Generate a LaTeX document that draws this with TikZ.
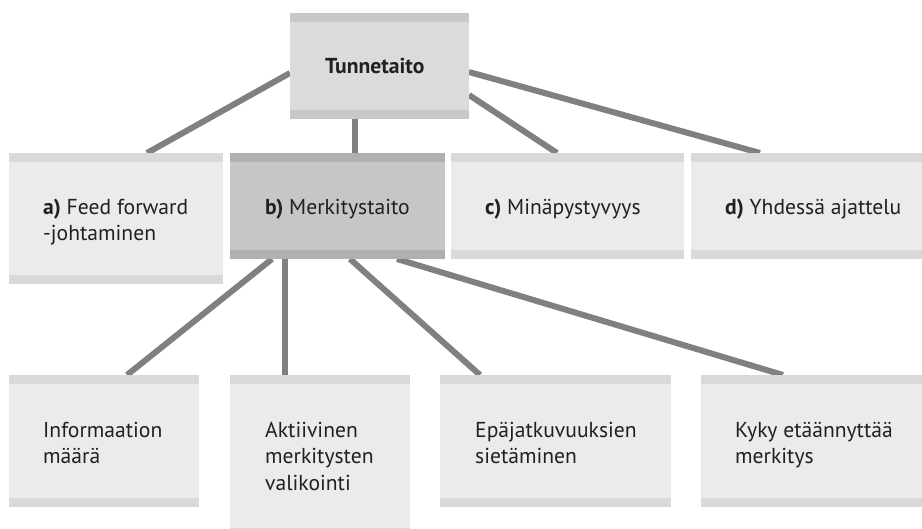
\documentclass[tikz,border=0pt]{standalone}
\usepackage{fontspec}
\setmainfont{PT Sans}
\usetikzlibrary{backgrounds}

\definecolor{paleFill}{HTML}{EBEBEC}
\definecolor{paleStrip}{HTML}{D9D9DB}
\definecolor{midFill}{HTML}{DBDBDD}
\definecolor{midStrip}{HTML}{C8C8CA}
\definecolor{darkFill}{HTML}{C6C6C8}
\definecolor{darkStrip}{HTML}{B0B0B2}
\definecolor{linkGray}{HTML}{808080}
\definecolor{inkColor}{HTML}{231F20}

\tikzset{
  card/.style={rectangle, draw=none, inner sep=0pt, outer sep=0pt,
    anchor=north west, fill=#1Fill,
    path picture={
      \fill[#1Strip] (path picture bounding box.north west)
        rectangle ([yshift=-9pt]path picture bounding box.north east);
      \fill[#1Strip] (path picture bounding box.south west)
        rectangle ([yshift=9pt]path picture bounding box.south east);
    }},
  card/.default=pale,
  lbl/.style={inner sep=0pt, anchor=north west, align=left, text=inkColor,
    font=\fontsize{21.6}{26.5}\selectfont},
  link/.style={draw=linkGray, line width=6pt}
}
\newcommand{\fst}{\rule{0pt}{20pt}}

\begin{document}
\begin{tikzpicture}[x=1pt, y=-1pt]
  \clip (0,0) rectangle (922,529);
  \useasboundingbox (0,0) rectangle (922,529);

  % top level
  \node[card=mid, minimum width=179pt, minimum height=106pt] (T) at (290,13) {};

  % second level
  \node[card, minimum width=214pt, minimum height=131pt] (A) at (9,153) {};
  \node[card=dark, minimum width=215pt, minimum height=106pt] (B) at (230,153) {};
  \node[card, minimum width=233pt, minimum height=106pt] (C) at (451,153) {};
  \node[card, minimum width=240pt, minimum height=106pt] (D) at (691,153) {};

  % third level
  \node[card, minimum width=190pt, minimum height=132pt] (P1) at (9,375) {};
  \node[card, minimum width=180pt, minimum height=162pt] (P2) at (230,375) {};
  \node[card, minimum width=231pt, minimum height=132pt] (P3) at (440,375) {};
  \node[card, minimum width=230pt, minimum height=132pt] (P4) at (701,375) {};

  % labels
  \node[lbl] (Tt) at ([xshift=35pt,yshift=-40pt]T.north west) {\fst\textbf{Tunnetaito}};
  \node[lbl] (At) at ([xshift=34pt,yshift=-41pt]A.north west) {\fst\textbf{a)} Feed forward\\-johtaminen};
  \node[lbl] (Bt) at ([xshift=35pt,yshift=-41pt]B.north west) {\fst\textbf{b)} Merkitystaito};
  \node[lbl] (Ct) at ([xshift=34pt,yshift=-41pt]C.north west) {\fst\textbf{c)} Minäpystyvyys};
  \node[lbl] (Dt) at ([xshift=34pt,yshift=-41pt]D.north west) {\fst\textbf{d)} Yhdessä ajattelu};
  \node[lbl] (P1t) at ([xshift=34pt,yshift=-42pt]P1.north west) {\fst Informaation\\määrä};
  \node[lbl] (P2t) at ([xshift=35pt,yshift=-42pt]P2.north west) {\fst Aktiivinen\\merkitysten\\valikointi};
  \node[lbl] (P3t) at ([xshift=35pt,yshift=-42pt]P3.north west) {\fst Epäjatkuvuuksien\\sietäminen};
  \node[lbl] (P4t) at ([xshift=34pt,yshift=-42pt]P4.north west) {\fst Kyky etäännyttää\\merkitys};

  % connectors behind the cards
  \begin{pgfonlayer}{background}
    \draw[link] ([yshift=-60pt]T.north west) -- ([xshift=138pt]A.north west);
    \draw[link] ([xshift=65pt]T.south west) -- ([xshift=125pt]B.north west);
    \draw[link] ([yshift=-82pt]T.north east) -- ([xshift=106pt]C.north west);
    \draw[link] ([yshift=-59pt]T.north east) -- ([xshift=69pt]D.north west);

    \draw[link] ([xshift=42pt]B.south west) -- ([xshift=118pt]P1.north west);
    \draw[link] ([xshift=55pt]B.south west) -- ([xshift=55pt]P2.north west);
    \draw[link] ([xshift=120pt]B.south west) -- ([xshift=40pt]P3.north west);
    \draw[link] ([xshift=167pt]B.south west) -- ([xshift=82pt]P4.north west);
  \end{pgfonlayer}
\end{tikzpicture}
\end{document}
